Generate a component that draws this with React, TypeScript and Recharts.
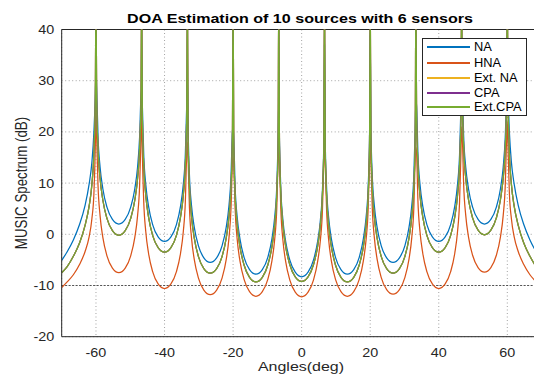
import React from "react";
import { LineChart, Line, XAxis, YAxis, CartesianGrid, ReferenceLine } from "recharts";

// Angle grid (deg)
const angles = [
  -70, -68.4, -66.6, -64.8, -63.2, -62, -61.2, -60.6, -60.2, -60,
  -59.8, -59.4, -58.8, -58, -56.8, -55.2, -53.33, -51.47, -49.87, -48.67, -47.87, -47.27, -46.87, -46.67,
  -46.47, -46.07, -45.47, -44.67, -43.47, -41.87, -40, -38.13, -36.53, -35.33, -34.53, -33.93, -33.53, -33.33,
  -33.13, -32.73, -32.13, -31.33, -30.13, -28.53, -26.67, -24.8, -23.2, -22, -21.2, -20.6, -20.2, -20,
  -19.8, -19.4, -18.8, -18, -16.8, -15.2, -13.33, -11.47, -9.87, -8.67, -7.87, -7.27, -6.87, -6.67,
  -6.47, -6.07, -5.47, -4.67, -3.47, -1.87, 0, 1.87, 3.47, 4.67, 5.47, 6.07, 6.47, 6.67,
  6.87, 7.27, 7.87, 8.67, 9.87, 11.47, 13.33, 15.2, 16.8, 18, 18.8, 19.4, 19.8, 20,
  20.2, 20.6, 21.2, 22, 23.2, 24.8, 26.67, 28.53, 30.13, 31.33, 32.13, 32.73, 33.13, 33.33,
  33.53, 33.93, 34.53, 35.33, 36.53, 38.13, 40, 41.87, 43.47, 44.67, 45.47, 46.07, 46.47, 46.67,
  46.87, 47.27, 47.87, 48.67, 49.87, 51.47, 53.33, 55.2, 56.8, 58, 58.8, 59.4, 59.8, 60,
  60.2, 60.6, 61.2, 62, 63.2, 64.8, 66.6, 68.4, 70,
];

// NA (blue)
const na = [
  -5.1, -3.4, -1.1, 1.9, 5.6, 9.8, 14, 20, 27, 32,
  28.5, 19.0, 13.1, 8.9, 5.3, 2.9, 2.0, 2.9, 5.3, 8.9, 13.1, 19.0, 27, 28,
  25.1, 15.6, 9.7, 5.5, 1.9, -0.5, -1.4, -0.5, 1.9, 5.5, 9.7, 15.6, 25.1, 31,
  21.0, 11.5, 5.6, 1.4, -2.2, -4.6, -5.5, -4.6, -2.2, 1.4, 5.6, 11.5, 20, 21,
  18.7, 9.2, 3.3, -0.9, -4.5, -6.9, -7.8, -6.9, -4.5, -0.9, 3.3, 9.2, 18.7, 26,
  18.2, 8.7, 2.8, -1.4, -5.0, -7.4, -8.3, -7.4, -5.0, -1.4, 2.8, 8.7, 18.2, 37,
  18.7, 9.2, 3.3, -0.9, -4.5, -6.9, -7.8, -6.9, -4.5, -0.9, 3.3, 9.2, 18.7, 39,
  21.0, 11.5, 5.6, 1.4, -2.2, -4.6, -5.5, -4.6, -2.2, 1.4, 5.6, 11.5, 21.0, 26,
  25.1, 15.6, 9.7, 5.5, 1.9, -0.5, -1.4, -0.5, 1.9, 5.5, 9.7, 15.6, 25.1, 30,
  28.5, 19.0, 13.1, 8.9, 5.3, 2.9, 2.0, 2.9, 5.3, 8.9, 13.1, 19.0, 27, 28,
  27, 20, 14, 9.8, 5.6, 1.9, -1.1, -3.4, -5.1,
];

// HNA (orange)
const hna = [
  -10.4, -9.3, -7.9, -5.9, -3.4, -0.5, 3, 8, 17, 25,
  19.0, 9.5, 3.6, -0.6, -4.2, -6.6, -7.5, -6.6, -4.2, -0.6, 3.6, 9.5, 19.0, 24,
  15.9, 6.4, 0.5, -3.7, -7.3, -9.7, -10.6, -9.7, -7.3, -3.7, 0.5, 6.4, 15.9, 18,
  14.7, 5.2, -0.7, -4.9, -8.5, -10.9, -11.8, -10.9, -8.5, -4.9, -0.7, 5.2, 14.0, 15,
  14.0, 4.9, -1.0, -5.2, -8.8, -11.2, -12.1, -11.2, -8.8, -5.2, -1.0, 4.9, 14.4, 16,
  14.3, 4.8, -1.1, -5.3, -8.9, -11.3, -12.2, -11.3, -8.9, -5.3, -1.1, 4.8, 14.3, 20,
  14.4, 4.9, -1.0, -5.2, -8.8, -11.2, -12.1, -11.2, -8.8, -5.2, -1.0, 4.9, 14.4, 18,
  14.8, 5.3, -0.6, -4.8, -8.4, -10.8, -11.7, -10.8, -8.4, -4.8, -0.6, 5.3, 14.8, 17,
  15.9, 6.4, 0.5, -3.7, -7.3, -9.7, -10.6, -9.7, -7.3, -3.7, 0.5, 6.4, 15.9, 21,
  19.1, 9.6, 3.7, -0.5, -4.1, -6.5, -7.4, -6.5, -4.1, -0.5, 3.7, 9.6, 19.1, 22,
  17, 8, 3, -0.5, -3.4, -5.9, -7.9, -9.3, -10.4,
];

// Ext.CPA (green)
const extCpa = [
  -7.5, -6.3, -4.3, -1.7, 1.7, 5.5, 9.7, 16, 26, 48,
  26.3, 16.8, 10.9, 6.7, 3.1, 0.7, -0.2, 0.7, 3.1, 6.7, 10.9, 16.8, 26.3, 48,
  23.0, 13.5, 7.6, 3.4, -0.2, -2.6, -3.5, -2.6, -0.2, 3.4, 7.6, 13.5, 23.0, 48,
  18.9, 9.4, 3.5, -0.7, -4.3, -6.7, -7.6, -6.7, -4.3, -0.7, 3.5, 9.4, 18.9, 48,
  17.2, 7.7, 1.8, -2.4, -6.0, -8.4, -9.3, -8.4, -6.0, -2.4, 1.8, 7.7, 17.2, 48,
  17.3, 7.8, 1.9, -2.3, -5.9, -8.3, -9.2, -8.3, -5.9, -2.3, 1.9, 7.8, 17.3, 48,
  17.2, 7.7, 1.8, -2.4, -6.0, -8.4, -9.3, -8.4, -6.0, -2.4, 1.8, 7.7, 17.2, 48,
  18.9, 9.4, 3.5, -0.7, -4.3, -6.7, -7.6, -6.7, -4.3, -0.7, 3.5, 9.4, 18.9, 48,
  23.0, 13.5, 7.6, 3.4, -0.2, -2.6, -3.5, -2.6, -0.2, 3.4, 7.6, 13.5, 23.0, 48,
  26.4, 16.9, 11.0, 6.8, 3.2, 0.8, -0.1, 0.8, 3.2, 6.8, 11.0, 16.9, 26.4, 48,
  26, 16, 9.7, 5.5, 1.7, -1.7, -4.3, -6.3, -7.5,
];

// Ext. NA and CPA lie under Ext.CPA in the figure
const extNa = extCpa;
const cpa = extCpa;

const xTicks = [-60, -40, -20, 0, 20, 40, 60];
const yTicks = [-20, -10, 0, 10, 20, 30, 40];

const seriesNames = ["NA", "HNA", "Ext. NA", "CPA", "Ext.CPA"];
const seriesKeys = ["na", "hna", "extNa", "cpa", "extCpa"];
const seriesColors = ["#0072BD", "#D95319", "#EDB120", "#7E2F8E", "#77AC30"];

const rows = angles.map((a, i) => ({
  angle: a,
  na: na[i],
  hna: hna[i],
  extNa: extNa[i],
  cpa: cpa[i],
  extCpa: extCpa[i],
}));

const FONT = "'Liberation Sans', Arial, Helvetica, sans-serif";
const TXT = "#262626";

const XTick = (props: any) => {
  const { x, y, payload } = props;
  return (
    <text
      x={x}
      y={y + 12}
      textAnchor="middle"
      fontSize={12.5}
      fill={TXT}
      fontFamily={FONT}
      transform={`translate(${x} 0) scale(1.15 1) translate(${-x} 0)`}
    >
      {payload.value}
    </text>
  );
};

const YTick = (props: any) => {
  const { x, y, payload } = props;
  const xe = x + 0.6;
  return (
    <text
      x={xe}
      y={y + 4.5}
      textAnchor="end"
      fontSize={12.5}
      fill={TXT}
      fontFamily={FONT}
      transform={`translate(${xe} 0) scale(1.15 1) translate(${-xe} 0)`}
    >
      {payload.value}
    </text>
  );
};

const legendRowsY = [47.3, 62.7, 78.3, 92.7, 107.3];

export default function App() {
  return (
    <div
      style={{
        position: "absolute",
        left: 0,
        top: 0,
        width: 534,
        height: 374,
        overflow: "hidden",
        background: "#fff",
        fontFamily: FONT,
      }}
    >
      <LineChart
        width={560}
        height={374}
        data={rows}
        margin={{ top: 29.5, right: 18.4, bottom: 7.3, left: 0 }}
      >
        <CartesianGrid stroke="#8c8c8c" strokeDasharray="1 2.5" strokeWidth={0.8} />
        <XAxis
          dataKey="angle"
          type="number"
          domain={[-70, 70]}
          ticks={xTicks}
          allowDataOverflow
          height={30}
          tick={<XTick />}
          tickLine={false}
          axisLine={{ stroke: TXT, strokeWidth: 1 }}
          interval={0}
        />
        <YAxis
          type="number"
          domain={[-20, 40]}
          ticks={yTicks}
          allowDataOverflow
          width={61.7}
          tick={<YTick />}
          tickLine={false}
          axisLine={{ stroke: TXT, strokeWidth: 1 }}
          interval={0}
        />
        <ReferenceLine y={-10} stroke="#444" strokeDasharray="2 1.5" strokeWidth={0.9} />
        <ReferenceLine y={40} stroke={TXT} strokeWidth={1} />
        {seriesKeys.map((k, i) => (
          <Line
            key={k}
            dataKey={k}
            name={seriesNames[i]}
            type="monotone"
            stroke={seriesColors[i]}
            strokeWidth={1.25}
            dot={false}
            activeDot={false}
            isAnimationActive={false}
          />
        ))}
      </LineChart>

      <div
        style={{
          position: "absolute",
          left: 100,
          width: 400,
          top: 10.5,
          height: 16,
          lineHeight: "16px",
          textAlign: "center",
          fontWeight: "bold",
          fontSize: 13.5,
          color: "#000",
          transform: "scaleX(1.19)",
          whiteSpace: "nowrap",
        }}
      >
        DOA Estimation of 10 sources with 6 sensors
      </div>

      <div
        style={{
          position: "absolute",
          left: 21.7 - 100,
          top: 183.3 - 8,
          width: 200,
          height: 16,
          lineHeight: "16px",
          textAlign: "center",
          fontSize: 13.3,
          color: TXT,
          transform: "rotate(-90deg) scale(1, 1.2)",
          whiteSpace: "nowrap",
        }}
      >
        MUSIC Spectrum (dB)
      </div>

      <div
        style={{
          position: "absolute",
          left: 301 - 100,
          top: 358.5,
          width: 200,
          height: 16,
          lineHeight: "16px",
          textAlign: "center",
          fontSize: 13.3,
          color: TXT,
          transform: "scaleX(1.2)",
          whiteSpace: "nowrap",
        }}
      >
        Angles(deg)
      </div>

      <div
        style={{
          position: "absolute",
          left: 421.7,
          top: 38.3,
          width: 105,
          height: 77.7,
          border: `1px solid ${TXT}`,
          background: "#fff",
          boxSizing: "border-box",
        }}
      >
        {seriesNames.map((n, i) => (
          <React.Fragment key={n}>
            <div
              style={{
                position: "absolute",
                left: 4,
                top: legendRowsY[i] - 38.3 - 1 - 1,
                width: 43,
                height: 2,
                background: seriesColors[i],
              }}
            />
            <div
              style={{
                position: "absolute",
                left: 51.3,
                top: legendRowsY[i] - 38.3 - 1 - 7,
                height: 14,
                lineHeight: "14px",
                fontSize: 12,
                color: "#000",
                transform: "scaleX(1.07)",
                transformOrigin: "left center",
                whiteSpace: "nowrap",
              }}
            >
              {n}
            </div>
          </React.Fragment>
        ))}
      </div>
    </div>
  );
}
